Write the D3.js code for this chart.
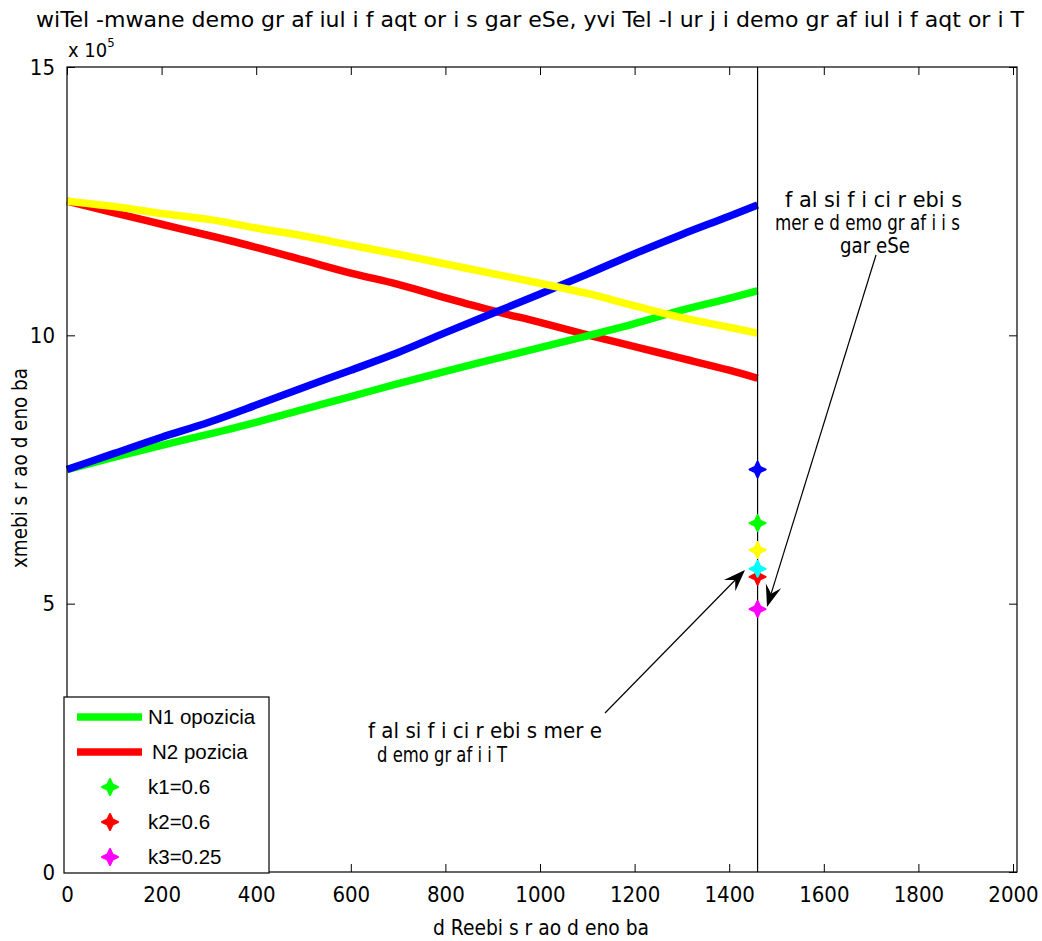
<!DOCTYPE html>
<html>
<head>
<meta charset="utf-8">
<script src="https://cdn.jsdelivr.net/npm/d3@7"></script>
<style>
  html, body { margin: 0; padding: 0; background: #fff; }
  svg { display: block; }
  .narrow { font-family: "Liberation Sans Narrow", "DejaVu Sans Condensed", "Liberation Sans", sans-serif; }
  .reg { font-family: "Liberation Sans", Arial, sans-serif; }
</style>
</head>
<body>
<svg id="chart" width="1042" height="941"></svg>
<script>
// Days on the horizontal axis and population (x 10^5) for each curve
const days        = [0, 100, 200, 300, 400, 500, 600, 700, 800, 900, 1000, 1100, 1200, 1300, 1400, 1460];
const blueVals    = [7.50, 7.80, 8.10, 8.38, 8.70, 9.03, 9.35, 9.68, 10.05, 10.41, 10.77, 11.14, 11.52, 11.88, 12.22, 12.43];
const greenVals   = [7.50, 7.73, 7.95, 8.16, 8.38, 8.62, 8.86, 9.10, 9.33, 9.55, 9.77, 9.99, 10.22, 10.47, 10.69, 10.83];
const yellowVals  = [12.50, 12.40, 12.27, 12.16, 12.00, 11.85, 11.68, 11.51, 11.33, 11.15, 10.97, 10.78, 10.55, 10.33, 10.15, 10.04];
const redVals     = [12.50, 12.28, 12.07, 11.86, 11.64, 11.40, 11.16, 10.95, 10.70, 10.46, 10.24, 10.01, 9.79, 9.57, 9.35, 9.20];

// Point markers placed on the cut-off day
const markerDay    = 1460;
const markerNames  = ["blue", "green", "yellow", "red", "cyan", "magenta"];
const markerVals   = [7.50, 6.50, 6.00, 5.50, 5.65, 4.90];
const markerColors = ["#0000ff", "#00ff00", "#ffff00", "#ff0000", "#00ffff", "#ff00ff"];

// Axis ticks
const xTicks = [0, 200, 400, 600, 800, 1000, 1200, 1400, 1600, 1800, 2000];
const yTicks = [0, 5, 10, 15];

// Legend entries
const legendLabels = ["N1 opozicia", "N2 pozicia", "k1=0.6", "k2=0.6", "k3=0.25"];
const legendColors = ["#00ff00", "#ff0000", "#00ff00", "#ff0000", "#ff00ff"];
const legendKinds  = ["line", "line", "marker", "marker", "marker"];

const svg = d3.select("#chart");

const padL = 67, padR = 1013, padT = 67, padB = 872;
const x = d3.scaleLinear().domain([0, 2000]).range([padL, padR]);
const y = d3.scaleLinear().domain([0, 15]).range([padB, padT]);

// Curves (drawn back to front)
const line = d3.line().x(d => x(d[0])).y(d => y(d[1])).curve(d3.curveMonotoneX);
const series = [
  { vals: redVals,    color: "#ff0000" },
  { vals: greenVals,  color: "#00ff00" },
  { vals: blueVals,   color: "#0000ff" },
  { vals: yellowVals, color: "#ffff00" }
];
series.forEach(s => {
  svg.append("path")
    .datum(days.map((d, i) => [d, s.vals[i]]))
    .attr("d", line)
    .attr("fill", "none")
    .attr("stroke", s.color)
    .attr("stroke-width", 7.5)
    .attr("stroke-linejoin", "round");
});

// Vertical reference line at the cut-off day
svg.append("line")
  .attr("x1", x(markerDay)).attr("x2", x(markerDay))
  .attr("y1", y(0)).attr("y2", y(15))
  .attr("stroke", "#000").attr("stroke-width", 1.2);

// Star-like marker glyph
const starPath = "M0,-8 L2.6,-2.6 L8,0 L2.6,2.6 L0,8 L-2.6,2.6 L-8,0 L-2.6,-2.6 Z";
function drawMarker(g, cx, cy, color) {
  g.append("path")
    .attr("d", starPath)
    .attr("transform", `translate(${cx},${cy})`)
    .attr("fill", color)
    .attr("stroke", color)
    .attr("stroke-width", 2)
    .attr("stroke-linejoin", "round");
}
markerVals.forEach((v, i) => drawMarker(svg, x(markerDay), y(v), markerColors[i]));

// Axes frame and ticks (inward, on all four sides)
const frameRight = 1017;
svg.append("rect")
  .attr("x", padL).attr("y", padT)
  .attr("width", frameRight - padL).attr("height", padB - padT)
  .attr("fill", "none").attr("stroke", "#000").attr("stroke-width", 1.2);

const xAxisB = d3.axisBottom(x).tickValues(xTicks).tickSize(-8).tickPadding(14).tickFormat(d3.format("d"));
const xAxisT = d3.axisTop(x).tickValues(xTicks).tickSize(-8).tickFormat("");
const yAxisL = d3.axisLeft(y).tickValues(yTicks).tickSize(-8).tickPadding(12).tickFormat(d3.format("d"));
const yAxisR = d3.axisRight(y).tickValues(yTicks).tickSize(-8).tickFormat("");

function styleAxis(g) {
  g.select(".domain").remove();
  g.selectAll(".tick line").attr("stroke", "#000");
  g.selectAll(".tick text").attr("class", "narrow").attr("font-size", 22).attr("fill", "#000");
}
svg.append("g").attr("transform", `translate(0,${padB})`).call(xAxisB).call(styleAxis);
svg.append("g").attr("transform", `translate(0,${padT})`).call(xAxisT).call(styleAxis);
svg.append("g").attr("transform", `translate(${padL},0)`).call(yAxisL).call(styleAxis);
svg.append("g").attr("transform", `translate(${frameRight},0)`).call(yAxisR).call(styleAxis);

// Exponent label
const expo = svg.append("text").attr("class", "narrow").attr("x", 68).attr("y", 57)
  .attr("font-size", 20).attr("fill", "#000");
expo.append("tspan").text("x 10");
expo.append("tspan").attr("dy", -10).attr("font-size", 13).text("5");

// Title
svg.append("text").attr("class", "narrow")
  .attr("x", 36).attr("y", 27)
  .attr("font-size", 22)
  .attr("textLength", 988).attr("lengthAdjust", "spacingAndGlyphs")
  .text("wiTel -mwane demo gr af iul i f aqt or i s gar eSe, yvi Tel -l ur j i demo gr af iul i f aqt or i T");

// Axis labels
svg.append("text").attr("class", "narrow")
  .attr("x", 433).attr("y", 935)
  .attr("font-size", 22)
  .attr("textLength", 216).attr("lengthAdjust", "spacingAndGlyphs")
  .text("d Reebi s  r ao d eno ba");

svg.append("text").attr("class", "narrow")
  .attr("transform", "translate(27,568) rotate(-90)")
  .attr("font-size", 22)
  .attr("textLength", 200).attr("lengthAdjust", "spacingAndGlyphs")
  .text("xmebi s  r ao d eno ba");

// Annotation texts
function annot(txt, x0, yb, w) {
  svg.append("text").attr("class", "narrow")
    .attr("x", x0).attr("y", yb)
    .attr("font-size", 21)
    .attr("textLength", w).attr("lengthAdjust", "spacingAndGlyphs")
    .text(txt);
}
annot("f al  si f i ci r ebi s", 785, 207, 177);
annot("mer e d emo gr af i i s", 775, 230, 185);
annot("gar eSe", 840, 253, 70);
annot("f al  si f i ci r ebi s mer e", 368, 738, 234);
annot("d emo gr af i i T", 377, 762, 130);

// Annotation arrows with notched heads
function arrow(x1, y1, x2, y2) {
  const ang = Math.atan2(y2 - y1, x2 - x1);
  const L = 22, W = 8, N = 14;
  const bx = x2 - L * Math.cos(ang), by = y2 - L * Math.sin(ang);
  const nx = x2 - N * Math.cos(ang), ny = y2 - N * Math.sin(ang);
  const px = -Math.sin(ang), py = Math.cos(ang);
  svg.append("line")
    .attr("x1", x1).attr("y1", y1).attr("x2", nx).attr("y2", ny)
    .attr("stroke", "#000").attr("stroke-width", 1.2);
  svg.append("path")
    .attr("d", `M${x2},${y2} L${bx + W * px},${by + W * py} L${nx},${ny} L${bx - W * px},${by - W * py} Z`)
    .attr("fill", "#000");
}
arrow(605, 713, 745, 570);
arrow(876, 255, 767, 607);

// Legend
const lg = svg.append("g");
lg.append("rect")
  .attr("x", 64).attr("y", 697).attr("width", 205).attr("height", 176)
  .attr("fill", "#fff").attr("stroke", "#000").attr("stroke-width", 1.2);
const rowY = [717, 752, 787, 822, 857];
legendLabels.forEach((lab, i) => {
  if (legendKinds[i] === "line") {
    lg.append("line")
      .attr("x1", 77).attr("x2", 142).attr("y1", rowY[i]).attr("y2", rowY[i])
      .attr("stroke", legendColors[i]).attr("stroke-width", 7.5);
  } else {
    drawMarker(lg, 110, rowY[i], legendColors[i]);
  }
  lg.append("text").attr("class", "reg")
    .attr("x", i === 1 ? 152 : 148).attr("y", rowY[i] + 7)
    .attr("font-size", 20.5).attr("fill", "#000")
    .text(lab);
});
</script>
</body>
</html>
